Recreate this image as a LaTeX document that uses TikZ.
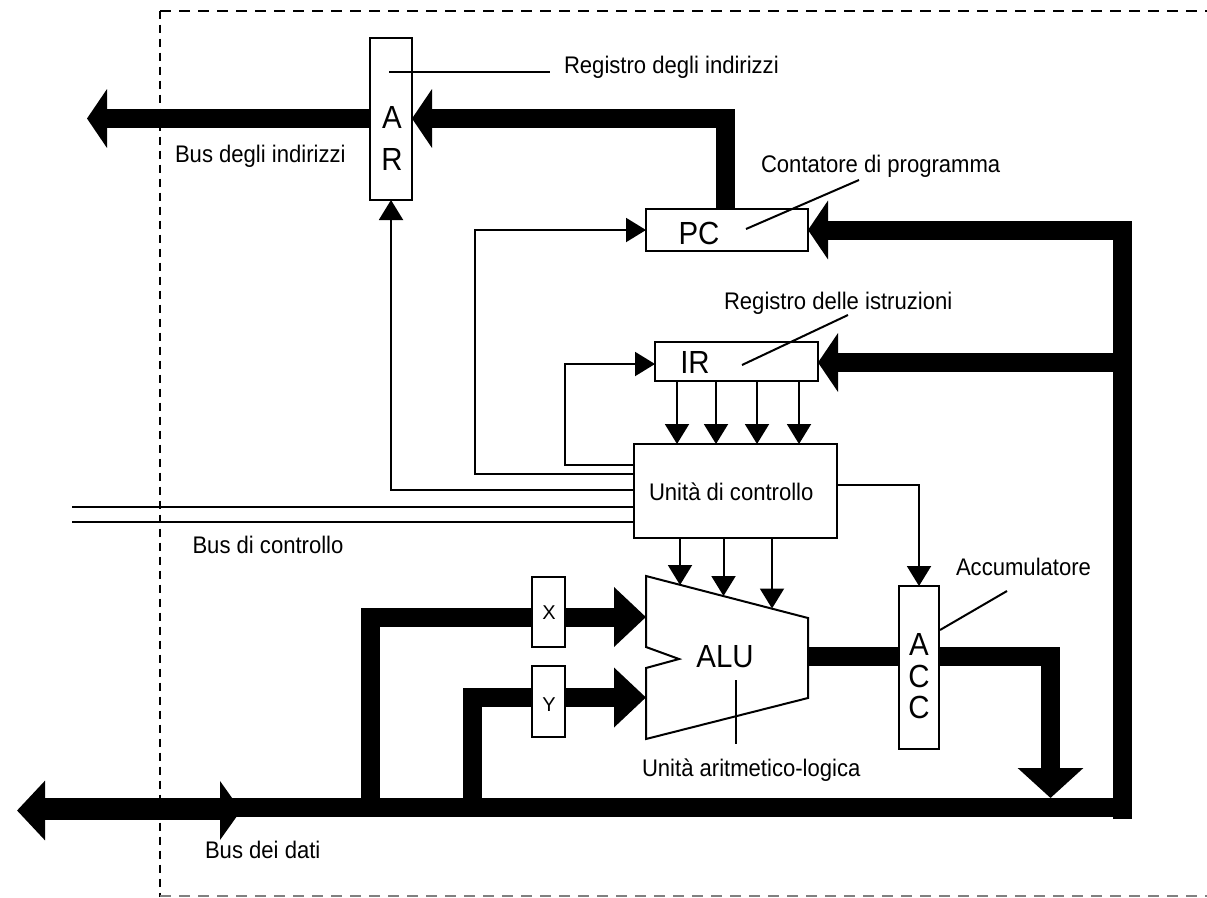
\documentclass[tikz,border=0pt]{standalone}
\usepackage{fontspec}
\setmainfont{Liberation Sans}
\newfontfamily\narrowfont[FakeStretch=0.92]{Liberation Sans}
\usetikzlibrary{arrows.meta}
\tikzset{
  lab/.style={inner sep=0pt,outer sep=0pt,anchor=base west,font=\narrowfont\fontsize{24}{24}\selectfont},
  big/.style={inner sep=0pt,outer sep=0pt,anchor=base,font=\narrowfont\fontsize{32}{32}\selectfont},
  small/.style={inner sep=0pt,outer sep=0pt,anchor=base,font=\fontsize{20}{20}\selectfont},
  box/.style={draw=black,fill=white,line width=2pt,inner sep=0pt,outer sep=0pt},
  thin line/.style={draw=black,line width=2pt,line join=miter},
  sig/.style={thin line,-{Triangle[length=20pt,width=24pt]}},
  leader/.style={draw=black,line width=2pt},
  bus/.style={draw=black,line width=19pt,line join=miter},
  busarrow/.style={bus,-{Triangle[length=20pt,width=58pt]}},
  bigarrow/.style={bus,-{Triangle[length=30pt,width=64pt]}},
  dataarrow/.style={bus,{Triangle[length=28pt,width=58pt]}-{Triangle[length=21pt,width=58pt]}},
}
\begin{document}
\begin{tikzpicture}[x=1pt,y=-1pt]
\useasboundingbox (0,0) rectangle (1207,897);
% boundary
\coordinate (fTL) at (160,10.5);
\coordinate (fTR) at (1207,10.5);
\coordinate (fBL) at (160,897);
\coordinate (fBL2) at (160,896);
\coordinate (fBR) at (1207,896);
\draw[line width=2pt,dash pattern=on 11pt off 8pt] (fTL) -- (fTR);
\draw[line width=2pt,dash pattern=on 8pt off 6pt] (fTL) -- (fBL);
\draw[line width=2pt,black!50,dash pattern=on 11pt off 8pt] (fBL2) -- (fBR);

% free points
\coordinate (addrEnd) at (87,118.5);
\coordinate (pcUp) at (725.5,118.5);
\coordinate (rightTop) at (1122.5,230);
\coordinate (rightBot) at (1122.5,819);
\coordinate (rightIR) at (1122.5,362.5);
\coordinate (dataL) at (17,810.5);
\coordinate (dataR) at (241,810.5);
\coordinate (shaftL) at (45,808.5);
\coordinate (shaftR) at (220,808.5);
\coordinate (dataBus) at (225,807.5);
\coordinate (busEnd) at (1122.5,807.5);
\coordinate (xUp) at (370.5,617);
\coordinate (yUp) at (472,697.5);
\coordinate (xTip) at (646,617);
\coordinate (yTip) at (646,697.5);
\coordinate (accBend) at (1050.5,656.5);
\coordinate (accTip) at (1050.5,798);
\coordinate (almTL) at (646,576);
\coordinate (almTR) at (808,618);
\coordinate (almBR) at (808,698);
\coordinate (almBL) at (646,739);
\coordinate (almN1) at (646,668);
\coordinate (almN2) at (679,659);
\coordinate (almN3) at (646,647);
\coordinate (aluOut) at (808,656.5);
\coordinate (ctlL1) at (72,507);
\coordinate (ctlL2) at (72,521.5);
\coordinate (leadA1) at (389,72);
\coordinate (leadA2) at (550,72);
\coordinate (leadP1) at (746,229);
\coordinate (leadP2) at (859,180);
\coordinate (leadI1) at (742,365);
\coordinate (leadI2) at (848,315);
\coordinate (leadC1) at (940,630);
\coordinate (leadC2) at (1007,591);
\coordinate (leadU1) at (735.5,680);
\coordinate (leadU2) at (735.5,744);
\coordinate (cuRight) at (837,484.5);
\coordinate (aluA) at (680,585);
\coordinate (aluB) at (723.5,596);
\coordinate (aluC) at (772,608.5);

% boxes
\node[box,minimum width=42pt,minimum height=162pt] (AR) at (391,119) {};
\node[box,minimum width=162pt,minimum height=42pt] (PC) at (727,230) {};
\node[box,minimum width=163pt,minimum height=39pt] (IR) at (736.5,361.5) {};
\node[box,minimum width=203pt,minimum height=94pt] (CU) at (735.5,491) {};
\node[box,minimum width=33pt,minimum height=70pt] (X) at (548.5,612) {};
\node[box,minimum width=33pt,minimum height=71pt] (Y) at (548.5,701.5) {};
\node[box,minimum width=40pt,minimum height=163pt] (ACC) at (919,667.5) {};

% ALU outline
\draw[thin line,line join=miter,fill=white] (almTL) -- (almTR) -- (almBR) -- (almBL) -- (almN1) -- (almN2) -- (almN3) -- cycle;

% thick buses
\draw[busarrow] (AR.west |- addrEnd) -- (addrEnd);
\draw[busarrow] (pcUp |- PC.north) -- (pcUp) -- (pcUp -| AR.east);
\draw[busarrow] (rightBot) -- (rightTop) -- (rightTop -| PC.east);
\draw[busarrow] (rightIR) -- (rightIR -| IR.east);
\draw[bus] (dataBus) -- (busEnd);
\draw[dataarrow] (dataL) -- (dataR);
\draw[bus,line width=21pt] (shaftL) -- (shaftR);
\draw[bus] (xUp |- dataBus) -- (xUp) -- (xUp -| X.west);
\draw[bus] (yUp |- dataBus) -- (yUp) -- (yUp -| Y.west);
\draw[bus,-{Triangle[length=32pt,width=58pt]}] (xUp -| X.east) -- (xTip);
\draw[bus,-{Triangle[length=32pt,width=58pt]}] (yUp -| Y.east) -- (yTip);
\draw[bus] (aluOut) -- (aluOut -| ACC.west);
\draw[bigarrow] (aluOut -| ACC.east) -- (accBend) -- (accTip);

% control signals
\draw[sig] (CU.west |- 0,490) -- (AR.south |- 0,490) -- (AR.south);
\draw[sig] (CU.west |- 0,474) -- (475,474) |- (PC.west);
\draw[sig] (CU.west |- 0,465) -- (565,465) |- (IR.west |- 0,364);
\draw[thin line] (CU.west |- ctlL1) -- (ctlL1);
\draw[thin line] (CU.west |- ctlL2) -- (ctlL2);
\draw[sig] (IR.south -| 677,0) -- (CU.north -| 677,0);
\draw[sig] (IR.south -| 716,0) -- (CU.north -| 716,0);
\draw[sig] (IR.south -| 757,0) -- (CU.north -| 757,0);
\draw[sig] (IR.south -| 799,0) -- (CU.north -| 799,0);
\draw[sig] (CU.south -| aluA) -- (aluA);
\draw[sig] (CU.south -| aluB) -- (aluB);
\draw[sig] (CU.south -| aluC) -- (aluC);
\draw[sig] (cuRight) -| (ACC.north);

% leaders
\draw[leader] (leadA1) -- (leadA2);
\draw[leader] (leadP1) -- (leadP2);
\draw[leader] (leadI1) -- (leadI2);
\draw[leader] (leadC1) -- (leadC2);
\draw[leader] (leadU1) -- (leadU2);

% box letters
\node[big] (tA1) at (392,128) {A};
\node[big] (tR) at (392,170) {R};
\node[big] (tPC) at (699,244) {PC};
\node[big] (tIR) at (695,373) {IR};
\node[small] (tX) at (549,619) {X};
\node[small] (tY) at (549,711) {Y};
\node[big] (tALU) at (725,667) {ALU};
\node[big] (tA2) at (919,655) {A};
\node[big] (tC1) at (919,687) {C};
\node[big] (tC2) at (919,718) {C};

% labels
\node[lab] (l1) at (564,73) {Registro degli indirizzi};
\node[lab] (l2) at (175,162) {Bus degli indirizzi};
\node[lab] (l3) at (761,172) {Contatore di programma};
\node[lab] (l4) at (724,309) {Registro delle istruzioni};
\node[lab] (l5) at (649,500) {Unità di controllo};
\node[lab] (l6) at (192.5,553) {Bus di controllo};
\node[lab] (l7) at (956,575) {Accumulatore};
\node[lab] (l8) at (642,776) {Unità aritmetico-logica};
\node[lab] (l9) at (205,858) {Bus dei dati};
\end{tikzpicture}
\end{document}
